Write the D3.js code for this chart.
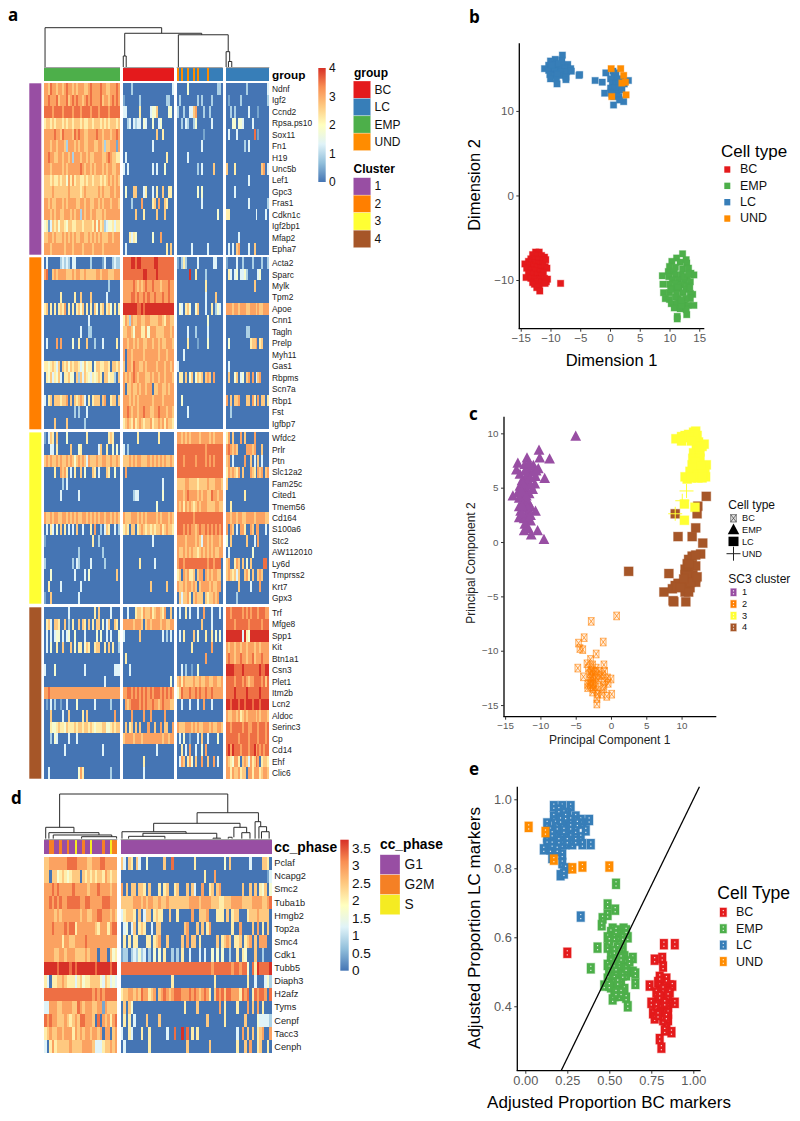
<!DOCTYPE html>
<html><head><meta charset="utf-8">
<script src="https://d3js.org/d3.v7.min.js"></script>
<style>
html,body{margin:0;padding:0;background:#fff}
svg{display:block}
text{font-family:"Liberation Sans",Arial,sans-serif}
.letter{font-family:"Open Sans",sans-serif;font-weight:700;font-size:17px;fill:#000}
</style></head><body>
<svg id="c" width="800" height="1121"></svg>
<script>
// ---------- shared categories ----------
const cellTypes = ["BC","LC","EMP","UND"];
const clusterNames = ["1","2","3","4"];
const phaseNames = ["G1","G2M","S"];
const typeColors = ["#E41A1C","#377EB8","#4DAF4A","#FF8C00"];
const clusterColors = ["#984EA3","#FF7F00","#FFFF33","#A65628"];
const phaseColors = ["#984EA3","#F58025","#F5EB22"];
const heatStops = ["#4575B4","#91BFDB","#E0F3F8","#FFFFBF","#FEC980","#F98E52","#D73027"];

// ---------- panel a: genes by cluster ----------
const genes1 = ["Ndnf","Igf2","Ccnd2","Rpsa.ps10","Sox11","Fn1","H19","Unc5b","Lef1","Gpc3","Fras1","Cdkn1c","Igf2bp1","Mfap2","Epha7"];
const genes2 = ["Acta2","Sparc","Mylk","Tpm2","Apoe","Cnn1","Tagln","Prelp","Myh11","Gas1","Rbpms","Scn7a","Rbp1","Fst","Igfbp7"];
const genes3 = ["Wfdc2","Prlr","Ptn","Slc12a2","Fam25c","Cited1","Tmem56","Cd164","S100a6","Stc2","AW112010","Ly6d","Tmprss2","Krt7","Gpx3"];
const genes4 = ["Trf","Mfge8","Spp1","Kit","Btn1a1","Csn3","Plet1","Itm2b","Lcn2","Aldoc","Serinc3","Cp","Cd14","Ehf","Clic6"];
// expression levels: each digit is one cell, level = digit * 4 / 9; blocks are EMP, BC, LC, LC
const expr1 = [
"77687767767877676777667877778776677787 0000200000000000000000003 00000400000000000000220 0000000000200000000003",
"77877786777867878776787877778677678787 1000000020000000000002200 02000000002020000200000 0100000200000000000002",
"88887888878888788878888788878888788888 3300000050000344600000440 20020033670002002000000 0020200000030000100000",
"56656566656566566656556656665656566656 0023032330430040034000000 00203200240000000300000 0004404430000300000000",
"77777877687777687877667777877677767787 0000000000000000600500000 00000000000001000000000 0300030000000080100000",
"77767767776277767677667776677626677717 0000000000000030000000000 00000000000030000000000 0000000002030000000000",
"77877667767767277767767667777667876655 0300000000000000000005000 00000300000000000000000 0000000000000000000000",
"77767777767677777787677676777676776677 3030000000000030300040000 00000000002030000060000 6000500000000000006703",
"66656556566475756655656656665656767676 0000000000000000000000000 00000000000000000000000 0000000000030000000000",
"66667666666676666656766666676766677677 0400066000350030500600550 00000000004040000000000 0000300000000000000000",
"77676677767677776677677667767677767776 0000200007000056070065000 00000000000030000000000 0000000000030000000002",
"77767677667776767727677677666767777777 0000006000500000600060000 00000000000000000000400 5500000000000003000030",
"45136564665466556665666657475623445355 0000000000000000000000000 00000000000000000000000 0000000000000000000000",
"66776766676767676677667676767666776777 0005354000000040007000000 00000000000000000000000 0000003000000000000000",
"77767777776777677776777767777677777777 0300000000000000000005060 00000003000000030000000 0303067000030060000000"];
const expr2 = [
"03000000232320330000000200000130002322 8888998998888889988888888 10252000003000000033000 1000030020000200002002",
"78006767777666767766766666776777666777 8888888888998888988888888 00000090050000200000000 0530340334200000340000",
"00000000000000000000000000000000200000 7777787676787787776777877 00000000000000500000000 0000000000000060000000",
"00000000500000050060000600000003000000 7777887877878778777877877 00000000000000300006000 0000000000000000000000",
"56050505657050505646050506405605640505 9999999889899999999999999 04305640046000300502430 7776776777667776766777",
"00000000000000000000003000000000000000 5762766776677666677657766 00000000000000040000000 0000000000000000000000",
"00000000000000000030002200000000000000 6677647775574777666677767 00000300020000030000000 0000000000220000000000",
"03000070700000400500060002000300000050 7767767677667767767667776 00000500001000040000000 0400000000005667056000",
"00000000000000000000000000000000000000 7077677777677777767776777 00030000000000000000000 0000000000000000000000",
"55456536065646566534645504665566506656 6077687766767777677767767 30000000000000000000000 0300000000000000000000",
"05463546305564406263654354565066455206 7676787677766767767767776 05506046046560676070000 0600460340670703670000",
"00000000000000000000000000000000000000 7066766767767706677667677 00000000000000000000000 0000000000000000000000",
"30560666566706065676305056660670056606 7776767677777767777677777 00400000000000000000000 7060667000660750706605",
"00000000000000020200030000000000000000 7787677677877667787776776 00000300000000000000000 0020000000000000000000",
"00000600000600000000200000000000000000 5676575676566756676757665 00000000000000000000000 0000000000000000000000"];
const expr3 = [
"10365060000400000000050000000000565000 0000000500000000050000000 77676767777677776767777 5706000706000070000000",
"00033050000006000450000000036005004040 3020000000000000000000000 88888888888888788888888 7876760000777670006000",
"67676676766767646767637666766776676676 6667676776667676767676676 88878888878888787878888 6703000007006030603000",
"00000500767503050060400065030006500400 0700000000000000000000000 88888888888888888888888 5767657060007650767067",
"00000000020300000000000000000000000000 0000000000000000000300000 66667766665666676667776 6000000000000000000000",
"00000000300000000300000000000000000000 0000023300000000000400000 77767877776767766877677 0000000005000000000000",
"00000000000000000000000000000000000000 0000000000000000400000000 76757676567677766667766 0050000000000000000000",
"76676776677676767667767676767767767676 7666777676767777676777676 88888888788888888888888 7767767766777767777766",
"03053040605030306003000507002036500302 5650660567656565667567665 88878787767877878787878 7076030775007607700030",
"10000000000000000000000050020000000000 0000000000000030000000000 77776777767637767677767 4060000000600030700000",
"00000000000000000200000000000200000000 0000000000000000000000000 76676767665676767676677 0300000000000400000000",
"20000000000000203200000300000020000000 0000000050000003000000000 78878888888888878878880 6700576060406000000880",
"00040000000000030000304000000000000060 0000000000000000000000000 56076755606770767677660 6765636006750600676000",
"00500000300000000030000000000000000000 0000000000000600000006000 76676776760677776766770 0000006000003000070000",
"10060000000000000300000000000000000000 0000000000000000000000000 06366750676660656676700 0000020000000000000000"];
const expr4 = [
"00000000000030000000000005060000030000 0030005665766756776570060 03005030003007000300030 8878888878787888788877",
"05630665006020500606506050660403600650 7777767776067677776776677 00000000000060000300000 8888788888878888887888",
"03030344030340040000300000404003030004 3000000060000000000302030 03050000604000500504040 9999999939549999999999",
"03040050060006040550465005660050605002 0000000000000000000000000 00000005000000000700000 7677677677677767767777",
"00000000000000000000000000000000000000 0500000000000000000000000 00000000000000700000000 7877677877677867778777",
"30000400000000000000300000000000000333 0003000000000000000000000 00302001004000000000000 9999888898888888898899",
"00000000000000000000000000000030000000 0000000000000000000000040 67576666766766776677667 8888788878767788887868",
"77877777777777777777777777777777777777 7788787878787878887878787 46877787787877877877777 8888988888988888898888",
"01030200100300004000000003000000020000 0767888878787787767877766 00300030003007000300000 9989998998999899989999",
"00060000030060000005060000000000000700 0000700000700700000070000 00000000000000000000000 7667767567677776767776",
"00054456554655565665665654555664456566 0605606060007006007066007 76667776767667776766776 8878888878877888788878",
"00020430000030003000000000000000000000 6777767776777777777677677 03040010003060030000400 8888887888878888788878",
"00000000003000000000000000000300000000 0000000000000000300000000 00503070030040700000000 8979888788878897878788",
"00000000000000000000000000000000000000 0000000000500000000000000 03760574060070060070300 7654775067637568705665",
"00300000000000000475000000000000020000 0000000000300000000000000 00000000000000000000000 7757667566077577756776"];
// column annotation per block: B=BC L=LC E=EMP U=UND
const groupsA = ["E".repeat(38),"B".repeat(25),"ULULLULLULULLLLULLLLLLL","L".repeat(22)];
// dendrogram links: left leaf, left height, right leaf, right height, merge height
const linksA = [[0.5,0,56.4,85.8,100],[38.7,28,75.6,82,85.8],[64.4,0,88.3,39,82],[38,0,39.4,0,28],[87.3,0,89,14,39],[88.4,0,90,0,14]];

// ---------- panel d ----------
const genesD = ["Pclaf","Ncapg2","Smc2","Tuba1b","Hmgb2","Top2a","Smc4","Cdk1","Tubb5","Diaph3","H2afz","Tyms","Cenpf","Tacc3","Cenph"];
// level = digit * 3.75 / 9; blocks are left and right clades
const exprD = [
"66777777788887777667778877777 630650630040000006008000000005000000000004060000000300006650",
"66066456545666065656566576566 000000000000000000000000000000000500070000000000000000000013",
"77787877777877777677787777677 706066066506000505600560006063007005606700000000600606054604",
"77878787788888778877777888777 666667776767766766766666666777767777666556667777666677776678",
"77776767777777677667788777676 356665060366056550060050000070066670005550605660005666766660",
"77787777878857777777657775788 034036056500306600000000067000606057000000005007000060705060",
"77777775776677778777777777777 050505500055056700600000607066050000006056760556056706077700",
"77776677677766667677707770645 122023242302040405002020500300030300404040020050540006002000",
"99999899998989999999899999899 888888888888888888888888888888888888788888887887884085988889",
"53055667655535645566664365343 000000000000000000005000000000000000050000000000005003000342",
"88888888888888888887878788888 566776768775670678767888777878767875068786887775878058788708",
"33777667777668767776677176666 060640000000000000000000050000600000000705000050007060705000",
"87877666765676887776080767578 050503000060000600000000000000000060000005000000060000433332",
"56766776777576767767767077067 300530005005000000300800908050500000000000000030706060567007",
"30575666667666677776333566767 030000000005000000000000006000000006000000000050060700560050"];
const phasesD = ["GGMMGGMGGMGGSGGMGGSGGGGMGGSMM","G".repeat(60)];
const linksD = [[6,27.6,71.8,59.3,100],[0.55,3,11.6,15.9,27.6],[1.8,3,21.4,10.9,15.9],[3.5,3,26.4,7.2,10.9],[14.6,3,28.3,3,7.2],
[59.8,36.3,83.8,39.8,59.3],[42.8,18,76.6,27.6,36.3],[30.4,3,55.5,14.6,18],[38.6,8,67.5,4,14.6],[33,3,47.2,3,8],[66,3,69,3,4],
[74.2,6,79.2,15.9,27.6],[77.3,3,80.5,3,15.9],[82.5,3,84.7,28.9,39.8],[84,3,87,18,28.9],[85,3,88,3,18],[72,3,73.5,3,6]];

// ---------- panel b: t-SNE ----------
const tsneBC = [[-12.5,-6.7],[-11.9,-6.7],[-13,-7],[-12.2,-7.1],[-11.5,-7.1],[-11,-7.3],[-13.3,-7.5],[-12.6,-7.5],[-12,-7.6],[-11.3,-7.7],[-10.8,-7.6],[-13.7,-7.8],[-13.1,-8],[-12.5,-8],[-11.9,-8.1],[-11.3,-8.2],[-14.3,-8.1],[-13.5,-8.3],[-12.8,-8.4],[-12.2,-8.5],[-11.6,-8.6],[-10.9,-8.4],[-10.6,-8.6],[-14,-8.6],[-13.2,-8.8],[-12.5,-8.9],[-11.8,-9],[-11.2,-9.1],[-13.7,-9.2],[-12.9,-9.3],[-12.2,-9.4],[-11.5,-9.6],[-14.1,-9.7],[-13.3,-9.8],[-12.6,-9.9],[-11.8,-9.9],[-11,-9.8],[-10.5,-9.9],[-13,-10.3],[-12.2,-10.2],[-11.4,-10.3],[-10.7,-10.2],[-12.7,-10.5],[-11.9,-10.7],[-10.9,-10.4],[-12.3,-10.9],[-11.8,-11.3],[-8.3,-10.4]];
const tsneEMP = [[12.2,-6.9],[12.8,-7.6],[11.2,-7.4],[10.4,-7.8],[12.9,-8],[11.8,-7.9],[10,-8.4],[11,-8.5],[12.2,-8.7],[13.2,-8.6],[9.8,-9],[10.8,-9],[13.6,-9.2],[8.8,-9.5],[9.9,-9.6],[11,-9.4],[12,-9.4],[13,-9.7],[14.1,-9.4],[10.5,-10],[11.5,-10],[12.5,-10.1],[13.5,-10.2],[8.9,-10.5],[10,-10.5],[11,-10.4],[12,-10.6],[13,-10.7],[10.6,-11],[11.6,-11],[12.8,-11.1],[9,-11.5],[10,-11.5],[11.2,-11.6],[12.3,-11.5],[13.5,-11.6],[13.9,-11.7],[9.3,-12.2],[10,-12.3],[11.5,-12.2],[13.5,-12.2],[10.3,-12.8],[11.3,-12.8],[12.5,-12.9],[14.1,-13],[13.1,-13],[10.8,-13.3],[11.8,-13.4],[12.8,-13.5],[11.3,-14.3],[12.9,-14.1],[11.3,-14.6],[12,-13],[11,-12],[12.7,-12.2],[12,-12.4],[11.4,-10.8],[12.4,-9.6],[13.2,-9.3],[10.2,-11.1],[13.4,-10.9]];
const tsneLC = [[-8,16.6],[-9.2,16.1],[-8.1,16],[-10,15.9],[-9.2,15.5],[-7.9,15.4],[-7.1,15.5],[-10.3,15.4],[-9.5,15],[-8.5,15],[-7.6,15],[-6.6,15],[-11,15],[-10.3,14.8],[-9.3,14.7],[-8.2,14.6],[-7.3,14.6],[-6.5,14.7],[-10.1,14.3],[-9.3,14.2],[-8.3,14.2],[-7.4,14],[-5.2,14.2],[-5.1,14.3],[-10,13.8],[-9,13.8],[-7.4,13.7],[-8.9,13.2],[-8.7,15.6],[-8.8,14.4],[-9.8,15.4],[-2.5,13.6],[-1.3,13.4],[-.7,14.5],[.5,14.7],[1,14.5],[.7,14],[.1,13.8],[1.3,13.8],[1.9,13.7],[3.1,13.6],[.4,13.3],[1,13.2],[1.6,13.2],[2.4,13.2],[.1,12.7],[.8,12.7],[1.6,12.7],[-.9,12.1],[.2,12.2],[1.2,12],[2,12.5],[.6,11.7],[1.5,11.7],[2.3,11.1],[1.6,11.3],[.6,10.7],[.3,12]];
const tsneUND = [[.2,15],[1.8,15],[2.3,14.2],[2,13.3],[2.6,13.4],[.3,11.7],[2.7,11.9]];
const xTicksB = [-15,-10,-5,0,5,10,15], yTicksB = [-10,0,10];

// ---------- panel c: PCA ----------
const pcaCluster1 = [[-5,9.7],[-10.2,8.4],[-8.7,7.6],[-10.1,7.7],[-11.9,7.7],[-13.2,7.2],[-13.4,6.6],[-12.2,7.1],[-11,7],[-10.3,6.7],[-11.6,6.5],[-12.9,6.2],[-12,6],[-10.7,6],[-9.4,5.8],[-12.6,5.6],[-11.8,5.4],[-10.8,5.3],[-12.9,5.1],[-12.1,4.9],[-11.1,4.8],[-13.2,4.5],[-12.4,4.4],[-11.6,4.4],[-13.9,4.2],[-13,4],[-12.2,3.9],[-11.7,3.6],[-13,3.2],[-12.2,3.1],[-11.4,3.2],[-12.8,2.8],[-11.8,2.7],[-10.7,2.8],[-13,2.2],[-12.3,2.1],[-11.4,1.9],[-12.2,1.6],[-11.7,1.2],[-12.3,1],[-10.4,1],[-11.3,.6],[-9.5,.2],[-12.5,5.4],[-12,4.2],[-12.5,3.5],[-11.5,5.9],[-12.2,6.5],[-11.4,5.2],[-12.7,4.7],[-11.8,3.1],[-12,2.3],[-12.6,2.6],[-11.4,2.4],[-11,6.4],[-10.6,6.5],[-11.6,7.2],[-12.6,3.3]];
const pcaCluster2 = [[.8,-6.8],[-2.8,-7.3],[-3.8,-8.8],[-4.6,-9.3],[-4.4,-9.8],[-4,-9.9],[-1.1,-9.2],[-2.1,-10.3],[-2.9,-10.8],[-3.4,-11.2],[-2.6,-11.3],[-1,-11.3],[-4.7,-11.6],[-3.2,-11.6],[-2.8,-11.8],[-2.2,-11.9],[-1.7,-11.9],[-.9,-11.9],[-3,-12.1],[-2.5,-12.2],[-1.2,-12.2],[-3.9,-12.4],[-2.9,-12.5],[-2.1,-12.5],[-.5,-12.5],[0,-12.6],[-2.8,-12.8],[-1.8,-12.7],[-.9,-12.8],[-3.3,-13.1],[-2.6,-13.1],[-2.9,-13.3],[-1.1,-13.2],[-.4,-13],[-3.3,-13.4],[-2.5,-13.5],[-2,-13.6],[-1,-13.5],[-2.6,-13.8],[-1.9,-14],[-1.3,-14],[-.6,-14.2],[.1,-14],[-2,-14.4],[-2,-14.9],[-2.7,-11.9],[-2.6,-12.4],[-2.4,-13],[-2.2,-13.3],[-3,-13],[-1.5,-12.3],[-2.1,-11.6]];
const pcaCluster3 = [[9.2,9.5],[10,9.7],[10.5,9.8],[12,10.2],[12.2,9.8],[11.8,9.4],[12.4,9.2],[13.2,9],[12.1,8.8],[11.7,8.2],[12.6,8.3],[11.6,7.7],[12.6,7.7],[11.5,7.1],[12.4,7],[13.5,7.1],[11.2,6.5],[12.1,6.5],[13.3,6.5],[10.5,6],[11.8,6.1],[13.4,6],[10.8,5.8],[12.3,5.9],[10.4,3.5],[11.9,3.2],[10.4,2],[11,9.9],[10,9.3],[11.7,10.1],[11.9,9.9],[12.9,8.8],[12.5,8.8],[12,7.4],[11.7,6.9],[12.8,7],[12.3,6.2],[11.4,5.9],[13,6.3],[12.9,5.9],[11.1,9.6],[11.4,9.3]];
const pcaCluster3Und = [[10.7,4.7],[10.1,3.8],[9.1,2.6]];
const pcaCluster4 = [[13.5,4.2],[12.3,3.3],[12.2,2.6],[9.1,2.6],[12,1.3],[9.5,.5],[11.5,.5],[13,-.1],[12.7,-1.1],[11.5,-1.3],[11,-1.6],[10.8,-2],[11.5,-2.1],[10.5,-2.5],[11,-2.6],[2.5,-2.7],[8.2,-2.9],[10.5,-3],[11,-3.2],[11.6,-3],[12,-3.3],[10.7,-3.6],[12,-3.7],[9.5,-3.8],[9.1,-4],[10.5,-4.1],[11.2,-4.2],[8.7,-4.3],[10.5,-4.6],[7.5,-4.6],[8.8,-5.4],[8.9,-5.5],[10.6,-5.5],[11,-4.6],[9.3,-4.1],[12,-2.2],[10.7,-3.1],[11.3,-3.7],[10.3,-3.4],[9.9,-4.2],[12.2,-3.2],[11,-2],[12,-1.2]];
const xTicksC = [-15,-10,-5,0,5,10], yTicksC = [-15,-10,-5,0,5,10];

// ---------- panel e ----------
const propBC = [[.89,.58],[.825,.58],[.77,.535],[.815,.54],[.82,.515],[.79,.47],[.74,.46],[.82,.47],[.86,.46],[.875,.46],[.8,.45],[.84,.45],[.83,.43],[.79,.42],[.75,.41],[.81,.4],[.85,.4],[.89,.41],[.76,.38],[.83,.38],[.77,.365],[.85,.36],[.84,.34],[.87,.325],[.83,.33],[.8,.305],[.81,.28],[.25,.555],[.81,.44],[.82,.41],[.84,.42],[.8,.395],[.8,.47],[.83,.47],[.78,.44],[.82,.45],[.86,.44],[.8,.43],[.85,.43],[.78,.4],[.83,.41],[.8,.38],[.85,.38],[.82,.36],[.84,.37],[.79,.375],[.84,.48],[.8,.485]];
const propEMP = [[.54,.755],[.49,.695],[.535,.68],[.49,.665],[.46,.655],[.455,.635],[.52,.625],[.585,.625],[.51,.615],[.56,.61],[.61,.6],[.49,.6],[.57,.59],[.43,.57],[.49,.57],[.58,.57],[.56,.56],[.51,.545],[.59,.545],[.64,.54],[.51,.53],[.55,.53],[.6,.525],[.49,.52],[.53,.51],[.58,.51],[.39,.51],[.64,.5],[.5,.495],[.55,.49],[.6,.49],[.655,.495],[.52,.475],[.57,.47],[.655,.465],[.47,.46],[.51,.455],[.55,.45],[.59,.45],[.53,.43],[.56,.43],[.52,.42],[.6,.425],[.61,.4],[.53,.6],[.56,.59],[.5,.59],[.55,.57],[.53,.56],[.5,.51],[.52,.5],[.56,.52],[.54,.5],[.58,.49],[.49,.48],[.53,.48],[.55,.47],[.6,.51],[.62,.53],[.57,.54],[.5,.46],[.54,.44],[.57,.44],[.58,.6],[.6,.62],[.54,.62]];
const propLC = [[.17,.98],[.22,.98],[.27,.98],[.25,.96],[.17,.95],[.21,.95],[.3,.95],[.13,.93],[.18,.93],[.24,.93],[.29,.93],[.34,.93],[.33,.94],[.38,.94],[.15,.91],[.2,.91],[.25,.91],[.3,.91],[.36,.91],[.13,.89],[.18,.89],[.22,.89],[.27,.89],[.33,.89],[.13,.87],[.18,.87],[.24,.87],[.28,.87],[.34,.87],[.39,.87],[.11,.855],[.15,.855],[.18,.85],[.16,.83],[.22,.84],[.22,.815],[.24,.8],[.21,.78],[.23,.785],[.33,.66],[.2,.97],[.23,.96],[.27,.94],[.22,.93],[.19,.92],[.23,.91],[.27,.92],[.16,.9],[.22,.87],[.2,.88],[.25,.88],[.16,.87],[.19,.855],[.3,.88],[.21,.94],[.24,.95],[.31,.93]];
const propUND = [[.02,.92],[.12,.905],[.17,.825],[.28,.8],[.34,.805],[.5,.805]];
const xTicksE = [0,.25,.5,.75,1], yTicksE = [.4,.6,.8,1];
const refLine = [.2133,1.0365];

// ---------- drawing ----------
const svg = d3.select("#c");
const typeColor = d3.scaleOrdinal(cellTypes, typeColors);
const groupKey = {B:"BC",L:"LC",E:"EMP",U:"UND"};
const phaseColor = d3.scaleOrdinal(phaseNames, phaseColors);
const phaseKey = {G:"G1",M:"G2M",S:"S"};
const txt = (g,x,y,s,size,o={}) => g.append("text").attr("x",x).attr("y",y).text(s).attr("font-size",size)
  .attr("fill",o.fill||"#000").attr("font-weight",o.bold?"bold":"normal").attr("text-anchor",o.anchor||"start")
  .attr("dominant-baseline",o.mid?"central":"auto");

function ramp(maxV){ return d3.scaleLinear().domain(heatStops.map((_,i)=>i/6*maxV)).range(heatStops).clamp(true); }

function heatRow(g, str, y, h, blocks, color, unit){
  str.split(" ").forEach((cells,b)=>{
    const x = d3.scaleLinear().domain([0,cells.length]).range(blocks[b]);
    g.append("g").selectAll("rect").data(Array.from(cells)).join("rect")
      .attr("x",(d,i)=>x(i)).attr("y",y).attr("width",(d,i)=>x(i+1)-x(i)).attr("height",h)
      .attr("shape-rendering","crispEdges").attr("fill",d=>color(+d*unit));
  });
}
function dendro(g, links, x, y){
  g.append("g").selectAll("path").data(links).join("path")
   .attr("fill","none").attr("stroke","#2b2b2b").attr("stroke-width",1)
   .attr("d",d=>{const p=d3.path();p.moveTo(x(d[0]),y(d[1]));p.lineTo(x(d[0]),y(d[4]));p.lineTo(x(d[2]),y(d[4]));p.lineTo(x(d[2]),y(d[3]));return p.toString();});
}
function colorbar(g,id,x0,x1,y0,y1,color,maxV,ticks,fs,fmt,lx){
  const grad=svg.append("defs").append("linearGradient").attr("id",id).attr("x1",0).attr("y1",1).attr("x2",0).attr("y2",0);
  color.domain().forEach((v,i)=>grad.append("stop").attr("offset",v/maxV).attr("stop-color",color.range()[i]));
  g.append("rect").attr("x",x0).attr("y",y0).attr("width",x1-x0).attr("height",y1-y0).attr("fill",`url(#${id})`);
  const s=d3.scaleLinear().domain([0,maxV]).range([y1,y0]);
  ticks.forEach(t=>txt(g,lx,s(t),fmt(t),fs,{mid:true,fill:"#111"}));
}
function swatches(g,x,y,w,h,colors,labels,lx,fs){
  colors.forEach((c,i)=>{
    g.append("rect").attr("x",x).attr("y",y+i*h).attr("width",w).attr("height",h).attr("fill",c).attr("stroke","#fff").attr("stroke-opacity",.5).attr("stroke-width",.6);
    txt(g,lx,y+i*h+h/2,labels[i],fs,{mid:true,fill:"#111"});
  });
}

// panel a
(function(){
  const g=svg.append("g");
  const blocks=[[44,120],[123.4,173.6],[176.7,222.7],[226,269.3]];
  const rows=[[genes1,expr1,83.3,254.7],[genes2,expr2,257.3,429.3],[genes3,expr3,432.4,603.7],[genes4,expr4,607.3,778.7]];
  const color=ramp(4);
  rows.forEach((r,k)=>{
    const y=d3.scaleBand().domain(r[0]).range([r[2],r[3]]);
    g.append("rect").attr("x",29.3).attr("y",r[2]).attr("width",12).attr("height",r[3]-r[2]).attr("fill",clusterColors[k]);
    r[0].forEach((gn,i)=>{
      heatRow(g,r[1][i],y(gn),y.bandwidth(),blocks,color,4/9);
      txt(g,272,y(gn)+y.bandwidth()/2,gn,8.4,{mid:true,fill:"#222"});
    });
  });
  groupsA.forEach((s,b)=>{
    const x=d3.scaleLinear().domain([0,s.length]).range(blocks[b]);
    g.append("g").selectAll("rect").data(Array.from(s)).join("rect").attr("x",(d,i)=>x(i)).attr("y",68.3).attr("width",(d,i)=>x(i+1)-x(i)).attr("height",12.7)
      .attr("shape-rendering","crispEdges").attr("fill",d=>typeColor(groupKey[d]));
    g.append("line").attr("x1",blocks[b][0]).attr("x2",blocks[b][1]).attr("y1",67.6).attr("y2",67.6).attr("stroke","#999").attr("stroke-width",1);
  });
  txt(g,272,79,"group",11.8,{bold:true});
  dendro(g,linksA,d3.scaleLinear().domain([0,108]).range([44,269.3]),d3.scaleLinear().domain([0,100]).range([67,27.7]));
  colorbar(g,"ga",318.3,325.7,68,182,color,4,[0,1,2,3,4],12,d3.format("d"),329);
  txt(g,354,77,"group",12,{bold:true});
  swatches(g,353.3,81,17.4,17.4,cellTypes.map(t=>typeColor(t)),cellTypes,374.5,12);
  txt(g,353.5,173,"Cluster",12,{bold:true});
  swatches(g,353.3,177.7,17.5,17.5,clusterColors,clusterNames,374.5,12);
  txt(g,8,21,"a",17).attr("class","letter");
})();

// panel d
(function(){
  const g=svg.append("g");
  const blocks=[[44.3,117.3],[120.7,271.7]];
  const y=d3.scaleBand().domain(genesD).range([856.7,1053.3]);
  const color=ramp(3.75);
  genesD.forEach((gn,i)=>{
    heatRow(g,exprD[i],y(gn),y.bandwidth(),blocks,color,3.75/9);
    txt(g,274.3,y(gn)+y.bandwidth()/2,gn,9.2,{mid:true,fill:"#222"});
  });
  phasesD.forEach((s,b)=>{
    const x=d3.scaleLinear().domain([0,s.length]).range(blocks[b]);
    g.append("g").selectAll("rect").data(Array.from(s)).join("rect").attr("x",(d,i)=>x(i)).attr("y",840.3).attr("width",(d,i)=>x(i+1)-x(i)).attr("height",14)
      .attr("shape-rendering","crispEdges").attr("fill",d=>phaseColor(phaseKey[d]));
    g.append("line").attr("x1",blocks[b][0]).attr("x2",blocks[b][1]).attr("y1",839.6).attr("y2",839.6).attr("stroke","#999").attr("stroke-width",1);
  });
  txt(g,274.3,852,"cc_phase",13.8,{bold:true});
  dendro(g,linksD,d3.scaleLinear().domain([0,89]).range([44.3,271.7]),d3.scaleLinear().domain([0,100]).range([840,794]));
  colorbar(g,"gd",340.3,348.7,839.7,970.7,color,3.75,[0,.5,1,1.5,2,2.5,3,3.5],13.6,d=>String(d),352);
  txt(g,380,849,"cc_phase",13.8,{bold:true});
  swatches(g,380,854.7,20,20,phaseColors,phaseNames,404.5,13.8);
  txt(g,11,804,"d",17).attr("class","letter");
})();

// scatter helpers
function frame(g,x,y,xt,yt,fs,xfmt,yfmt){
  const [l,r]=x.range(), [b,t]=y.range();
  const ax=g.append("g").attr("transform",`translate(0,${b})`).call(d3.axisBottom(x).tickValues(xt).tickSize(3).tickPadding(2.5).tickFormat(xfmt||d3.format("d")));
  const ay=g.append("g").attr("transform",`translate(${l},0)`).call(d3.axisLeft(y).tickValues(yt).tickSize(3).tickPadding(2.5).tickFormat(yfmt||d3.format("d")));
  [ax,ay].forEach(a=>{a.selectAll("text").attr("font-size",fs).attr("fill","#5a5a5a").attr("font-family",'"Liberation Sans",Arial,sans-serif');
    a.selectAll(".tick line").attr("stroke","#333");
    a.select(".domain").attr("stroke","#000").attr("stroke-width",1.3).attr("d",a===ax?`M${l-.65},0H${r}`:`M0,${b}V${t}`);});
}
function squares(g,pts,x,y,c,w,h){
  g.append("g").selectAll("rect").data(pts).join("rect").attr("x",d=>x(d[0])-w/2).attr("y",d=>y(d[1])-h/2)
   .attr("width",w).attr("height",h).attr("fill",c).attr("stroke",c).attr("stroke-opacity",.35).attr("stroke-width",1);
}
function dotted(g,pts,x,y,c,w,h){
  const s=g.append("g").selectAll("g").data(pts).join("g").attr("transform",d=>`translate(${x(d[0])},${y(d[1])})`);
  s.append("rect").attr("x",-w/2).attr("y",-h/2).attr("width",w).attr("height",h).attr("fill",c).attr("stroke",c).attr("stroke-opacity",.3).attr("stroke-width",1.2);
  [-h*.2,h*.2].forEach(o=>s.append("rect").attr("x",-.6).attr("y",o-.6).attr("width",1.2).attr("height",1.2).attr("fill","#fff").attr("fill-opacity",.85));
}
function crossed(g,pts,x,y,c,w,h){
  const s=g.append("g").selectAll("g").data(pts).join("g").attr("transform",d=>`translate(${x(d[0])},${y(d[1])})`);
  s.append("rect").attr("x",-w/2).attr("y",-h/2).attr("width",w).attr("height",h).attr("fill",c).attr("fill-opacity",.12).attr("stroke",c).attr("stroke-opacity",.55).attr("stroke-width",1.1);
  s.append("path").attr("d",`M${-w/2},${-h/2}L${w/2},${h/2}M${w/2},${-h/2}L${-w/2},${h/2}`).attr("stroke",c).attr("stroke-opacity",.75).attr("stroke-width",.9);
}
function triangles(g,pts,x,y,c,w){
  const h=w*.95;
  g.append("g").selectAll("path").data(pts).join("path").attr("transform",d=>`translate(${x(d[0])},${y(d[1])})`)
    .attr("d",`M0,${-h*.6}L${w/2},${h*.4}L${-w/2},${h*.4}Z`).attr("fill",c);
}
function plus(g,pts,x,y,c,w){
  g.append("g").selectAll("path").data(pts).join("path").attr("transform",d=>`translate(${x(d[0])},${y(d[1])})`)
    .attr("d",`M${-w/2},0H${w/2}M0,${-w/2}V${w/2}`).attr("stroke",c).attr("stroke-width",1).attr("fill","none");
}

// panel b
(function(){
  const g=svg.append("g");
  const x=d3.scaleLinear().domain([-15.24,15.85]).range([519.3,704.3]);
  const y=d3.scaleLinear().domain([-15.76,18]).range([328.7,43.3]);
  frame(g,x,y,xTicksB,yTicksB,11.5);
  [[tsneBC,"BC"],[tsneEMP,"EMP"],[tsneLC,"LC"],[tsneUND,"UND"]].forEach(s=>squares(g,s[0],x,y,typeColor(s[1]),6.4,6.4));
  txt(g,611.5,366,"Dimension 1",16.5,{anchor:"middle"});
  txt(g,0,0,"Dimension 2",16.5,{anchor:"middle"}).attr("transform","translate(480,185) rotate(-90)");
  txt(g,721,157,"Cell type",17);
  ["BC","EMP","LC","UND"].forEach((t,i)=>{
    const ly=169.3+i*16.35;
    g.append("rect").attr("x",724.3).attr("y",ly-3).attr("width",6).attr("height",6.4).attr("fill",typeColor(t));
    txt(g,740,ly,t,12.5,{mid:true,fill:"#111"});
  });
  txt(g,469,23,"b",17).attr("class","letter");
})();

// panel c
(function(){
  const g=svg.append("g");
  const x=d3.scaleLinear().domain([-15.16,14.92]).range([504,716.3]);
  const y=d3.scaleLinear().domain([-16.07,11.53]).range([716.7,416.7]);
  frame(g,x,y,xTicksC,yTicksC,9.8);
  triangles(g,pcaCluster1,x,y,clusterColors[0],10.8);
  crossed(g,pcaCluster2,x,y,clusterColors[1],5.6,7.6);
  squares(g,pcaCluster4,x,y,clusterColors[3],9,9);
  squares(g,pcaCluster3,x,y,clusterColors[2],9,9);
  plus(g,pcaCluster3Und,x,y,clusterColors[2],14);
  txt(g,609.7,744,"Principal Component 1",12,{anchor:"middle",fill:"#222"});
  txt(g,0,0,"Principal Component 2",12,{anchor:"middle",fill:"#222"}).attr("transform","translate(475,563) rotate(-90)");
  txt(g,728.3,509,"Cell type",12,{fill:"#111"});
  const ly=[518.3,530,541.7,553.7], lx=733.5;
  const lg=g.append("g");
  crossed(lg,[[lx,ly[0]]],d=>d,d=>d,"#333",5.6,7.4);
  triangles(lg,[[lx,ly[1]]],d=>d,d=>d,"#000",11.5);
  lg.append("rect").attr("x",lx-5).attr("y",ly[2]-5).attr("width",10).attr("height",9.4).attr("fill","#000");
  plus(lg,[[lx,ly[3]]],d=>d,d=>d,"#222",14);
  ["BC","EMP","LC","UND"].forEach((t,i)=>txt(g,742,ly[i],t,9.2,{mid:true,fill:"#111"}));
  txt(g,728.3,583,"SC3 cluster",12,{fill:"#111"});
  clusterNames.forEach((t,i)=>{
    const yy=592.3+i*11.7;
    dotted(lg,[[lx,yy]],d=>d,d=>d,clusterColors[i],5.6,7.4);
    txt(g,742,yy,t,9.2,{mid:true,fill:"#111"});
  });
  txt(g,469,420,"c",17).attr("class","letter");
})();

// panel e
(function(){
  const g=svg.append("g");
  const x=d3.scaleLinear().domain([-.0476,1.044]).range([517.3,700.7]);
  const y=d3.scaleLinear().domain([.2133,1.0365]).range([1070.7,786.7]);
  frame(g,x,y,xTicksE,yTicksE,12.8,d3.format(".2f"),d3.format(".1f"));
  [[propBC,"BC"],[propEMP,"EMP"],[propLC,"LC"],[propUND,"UND"]].forEach(s=>dotted(g,s[0],x,y,typeColor(s[1]),7.8,10.2));
  g.append("path").datum(refLine).attr("d",d3.line().x(d=>x(d)).y(d=>y(d))).attr("stroke","#000").attr("stroke-width",1.3).attr("fill","none");
  txt(g,609,1108,"Adjusted Proportion BC markers",17,{anchor:"middle"});
  txt(g,0,0,"Adjusted Proportion LC markers",17,{anchor:"middle"}).attr("transform","translate(480,928) rotate(-90)");
  txt(g,717.3,899.3,"Cell Type",17.5);
  ["BC","EMP","LC","UND"].forEach((t,i)=>{
    const ly=912.3+i*16.4;
    dotted(g,[[723.3,ly]],d=>d,d=>d,typeColor(t),6.6,8.8);
    txt(g,736,ly,t,12.5,{mid:true,fill:"#111"});
  });
  txt(g,469,775,"e",17).attr("class","letter");
})();
</script>
</body></html>
